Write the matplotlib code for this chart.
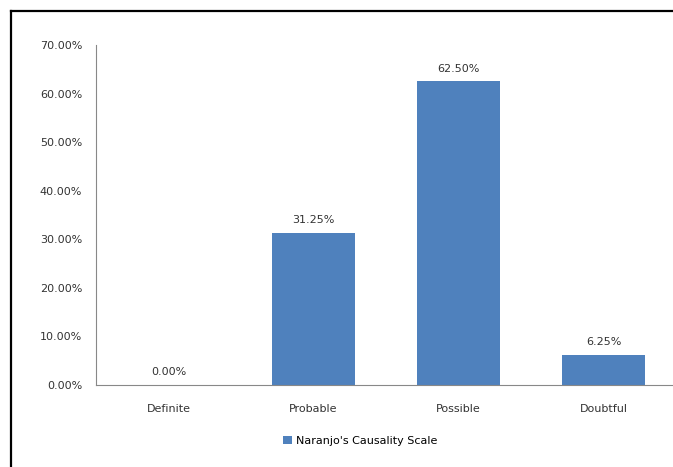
import matplotlib
matplotlib.use('Agg')
import matplotlib.pyplot as plt
from matplotlib.lines import Line2D
from matplotlib.ticker import FuncFormatter

categories = ['Definite', 'Probable', 'Possible', 'Doubtful']
values = [0.0, 31.25, 62.50, 6.25]
series_name = "Naranjo's Causality Scale"

plt.rcParams['font.family'] = ['DejaVu Sans']

W, H = 673, 467
fig = plt.figure(figsize=(W / 100, H / 100), dpi=100)
ax = fig.add_axes([96 / W, (H - 385) / H, 580 / W, 340 / H])

bar_color = '#4F81BD'
text_color = '#333333'
bars = ax.bar(range(len(categories)), values, width=0.57, color=bar_color,
              label=series_name)

for x, v in enumerate(values):
    ax.text(x, v + 1.6, f'{v:.2f}%', ha='center', va='bottom',
            fontsize=8, color=text_color)

ax.set_xlim(-0.5, len(categories) - 0.5)
ax.set_ylim(0, 70)
ax.set_yticks(range(0, 71, 10))
ax.yaxis.set_major_formatter(FuncFormatter(lambda v, p: f'{v:.2f}%'))
ax.set_xticks(range(len(categories)))
ax.set_xticklabels(categories)
ax.tick_params(axis='both', length=0, labelsize=8, colors=text_color)
ax.tick_params(axis='y', pad=10)
ax.tick_params(axis='x', pad=14)

for s in ['top', 'right']:
    ax.spines[s].set_visible(False)
for s in ['left', 'bottom']:
    ax.spines[s].set_color('#888888')
    ax.spines[s].set_linewidth(0.8)

fig.legend(handles=[bars], labels=[series_name], loc='center',
           bbox_to_anchor=(360 / W, (H - 441) / H), frameon=False,
           fontsize=8, handlelength=0.8, handleheight=0.8, handletextpad=0.4)

# outer frame (left and top edges only, as cropped in reference)
fig.add_artist(Line2D([11 / W, 11 / W], [0, (H - 11) / H], color='black', lw=1.6,
                      transform=fig.transFigure))
fig.add_artist(Line2D([11 / W, 1], [(H - 11) / H, (H - 11) / H], color='black', lw=1.6,
                      transform=fig.transFigure))

fig.savefig('out.png', dpi=100)
